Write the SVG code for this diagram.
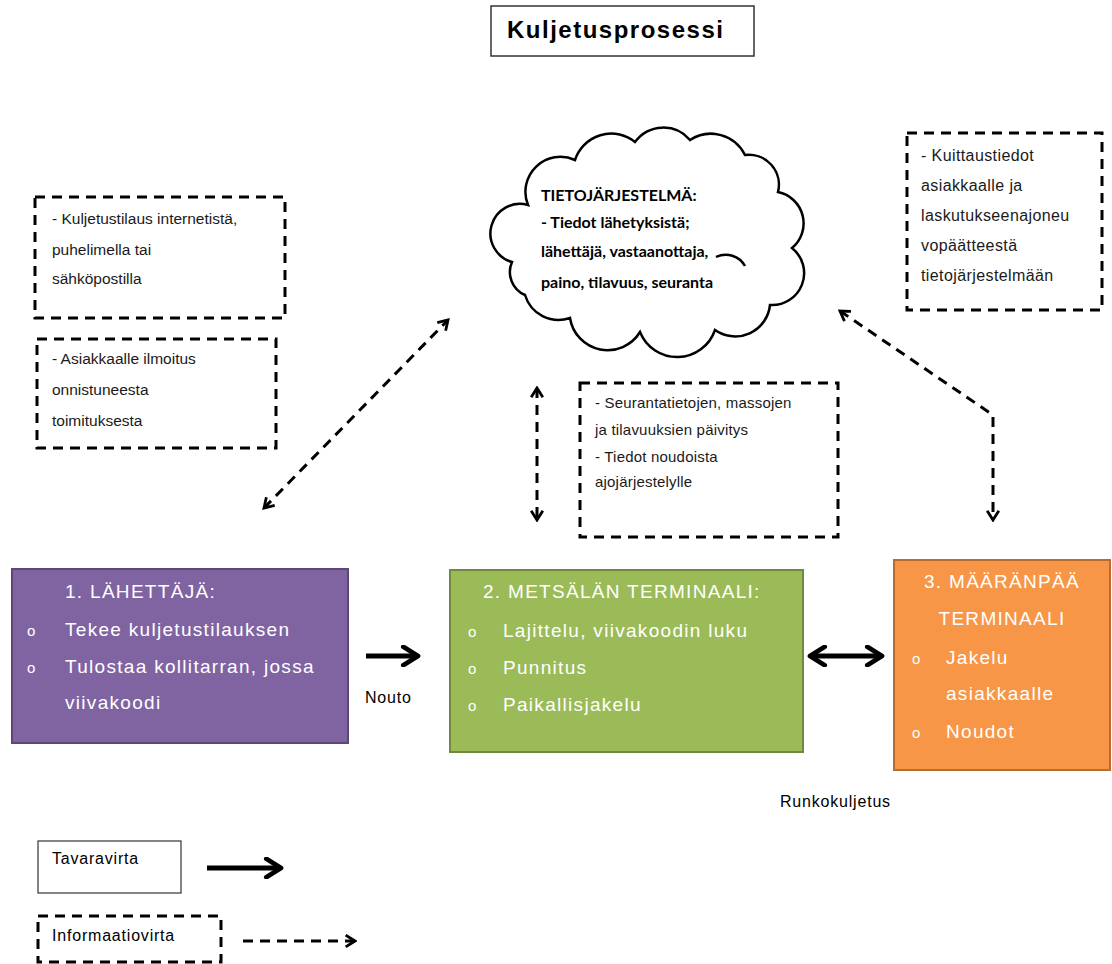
<svg xmlns="http://www.w3.org/2000/svg" width="1112" height="964" viewBox="0 0 1112 964">
<style>
text{font-family:"Liberation Sans",Arial,sans-serif;fill:#000}
.note{font-size:15.5px;fill:#1a1a1a}
.note2{font-size:16px;fill:#1a1a1a;letter-spacing:0.4px}
.small{font-size:15px;fill:#1a1a1a;letter-spacing:0.2px}
.dbox{fill:none;stroke:#000;stroke-width:3;stroke-dasharray:10 7}
.node{font-size:19px;fill:#fff;letter-spacing:1.3px}
.bul{font-size:15px;fill:#fff}
.cloud{font-family:Lato,"Open Sans",sans-serif;font-weight:bold;font-size:16px}
.info{fill:none;stroke:#000;stroke-width:3;stroke-dasharray:10 7}
.goods{fill:none;stroke:#000;stroke-width:5}
.lab{font-size:16px;letter-spacing:0.8px}
</style>
<defs>
<marker id="oa" viewBox="0 0 12 12" refX="10" refY="6" markerWidth="14" markerHeight="14" markerUnits="userSpaceOnUse" orient="auto-start-reverse">
<path d="M2,1 L10,6 L2,11" fill="none" stroke="#000" stroke-width="2.4"/>
</marker>
<marker id="sa" viewBox="0 0 12 12" refX="10" refY="6" markerWidth="22" markerHeight="22" markerUnits="userSpaceOnUse" orient="auto-start-reverse">
<path d="M2,1 L10,6 L2,11" fill="none" stroke="#000" stroke-width="2.6" stroke-linecap="round" stroke-linejoin="round"/>
</marker>
</defs>
<rect width="1112" height="964" fill="#fff"/>

<g id="title">
<rect x="491" y="6" width="263" height="50" fill="#fff" stroke="#333" stroke-width="1.5"/>
<text x="507" y="38" font-size="24" font-weight="bold" letter-spacing="1.5">Kuljetusprosessi</text>
</g>

<g id="tietojarjestelma">
<path d="M512 262 A28 28 0 0 1 528 205 A35 35 0 0 1 575 160 A38 38 0 0 1 635 142 A35 35 0 0 1 690 140 A38 38 0 0 1 745 155 A30 30 0 0 1 778 192 A32 32 0 0 1 792 248 A32 32 0 0 1 770 305 A35 35 0 0 1 715 330 A40 40 0 0 1 640 332 A38 38 0 0 1 570 318 A35 35 0 0 1 525 295 A25 25 0 0 1 512 262 Z" fill="#fff" stroke="#000" stroke-width="2.5"/>
<path d="M716 257 A22 22 0 0 1 745 266" fill="none" stroke="#000" stroke-width="2.5"/>
<text class="cloud" x="541" y="201">TIETOJÄRJESTELMÄ:</text>
<text class="cloud" x="541" y="228">- Tiedot lähetyksistä;</text>
<text class="cloud" x="541" y="257">lähettäjä, vastaanottaja,</text>
<text class="cloud" x="541" y="288">paino, tilavuus, seuranta</text>
</g>

<g id="note-tilaus">
<rect class="dbox" x="35" y="197" width="250" height="121"/>
<text class="note" x="52" y="224">- Kuljetustilaus internetistä,</text>
<text class="note" x="52" y="255">puhelimella tai</text>
<text class="note" x="52" y="284">sähköpostilla</text>
</g>

<g id="note-ilmoitus">
<rect class="dbox" x="37" y="339" width="239" height="109"/>
<text class="note" x="52" y="364">-  Asiakkaalle ilmoitus</text>
<text class="note" x="52" y="395">onnistuneesta</text>
<text class="note" x="52" y="426">toimituksesta</text>
</g>

<g id="note-kuittaus">
<rect class="dbox" x="907" y="133" width="195" height="177"/>
<text class="note2" x="921" y="161">- Kuittaustiedot</text>
<text class="note2" x="921" y="191">asiakkaalle ja</text>
<text class="note2" x="921" y="221">laskutukseenajoneu</text>
<text class="note2" x="921" y="251">vopäätteestä</text>
<text class="note2" x="921" y="281">tietojärjestelmään</text>
</g>

<g id="note-seuranta">
<rect class="dbox" x="580" y="383" width="258" height="154"/>
<text class="small" x="595" y="408">- Seurantatietojen, massojen</text>
<text class="small" x="595" y="435">ja tilavuuksien päivitys</text>
<text class="small" x="595" y="462">- Tiedot noudoista</text>
<text class="small" x="595" y="487">ajojärjestelylle</text>
</g>

<g id="lahettaja">
<rect x="12" y="569" width="336" height="174" fill="#8064A2" stroke="#5C4776" stroke-width="2"/>
<text class="node" x="65" y="598">1.   LÄHETTÄJÄ:</text>
<text class="bul" x="27" y="636">o</text>
<text class="node" x="65" y="636">Tekee kuljetustilauksen</text>
<text class="bul" x="27" y="673">o</text>
<text class="node" x="65" y="673">Tulostaa kollitarran, jossa</text>
<text class="node" x="65" y="709">viivakoodi</text>
</g>

<g id="metsala">
<rect x="450" y="570" width="353" height="182" fill="#9BBB59" stroke="#71893F" stroke-width="2"/>
<text class="node" x="483" y="598">2. METSÄLÄN TERMINAALI:</text>
<text class="bul" x="468" y="637">o</text>
<text class="node" x="503" y="637">Lajittelu, viivakoodin luku</text>
<text class="bul" x="468" y="674">o</text>
<text class="node" x="503" y="674">Punnitus</text>
<text class="bul" x="468" y="711">o</text>
<text class="node" x="503" y="711">Paikallisjakelu</text>
</g>

<g id="maaranpaa">
<rect x="894" y="560" width="216" height="210" fill="#F79646" stroke="#B66D31" stroke-width="2"/>
<text class="node" x="1002" y="588" text-anchor="middle">3. MÄÄRÄNPÄÄ</text>
<text class="node" x="1002" y="625" text-anchor="middle">TERMINAALI</text>
<text class="bul" x="912" y="664">o</text>
<text class="node" x="946" y="664">Jakelu</text>
<text class="node" x="946" y="700">asiakkaalle</text>
<text class="bul" x="912" y="738">o</text>
<text class="node" x="946" y="738">Noudot</text>
</g>

<g id="connectors">
<path class="info" d="M264 508 L448 320" marker-start="url(#oa)" marker-end="url(#oa)"/>
<path class="info" d="M537 388 L537 520" marker-start="url(#oa)" marker-end="url(#oa)"/>
<path class="info" d="M840 311 L993 415 L993 520" marker-start="url(#oa)" marker-end="url(#oa)"/>
<path class="goods" d="M366 656 L418 656" marker-end="url(#sa)"/>
<path class="goods" d="M810 656 L882 656" marker-start="url(#sa)" marker-end="url(#sa)"/>
<text class="lab" x="365" y="703">Nouto</text>
<text class="lab" x="780" y="807">Runkokuljetus</text>
</g>

<g id="legend-tavaravirta">
<rect x="38" y="841" width="143" height="52" fill="#fff" stroke="#333" stroke-width="1.2"/>
<text class="lab" x="52" y="864">Tavaravirta</text>
<path class="goods" d="M207 868 L281 868" marker-end="url(#sa)"/>
</g>

<g id="legend-informaatiovirta">
<rect class="dbox" x="38" y="916" width="183" height="46"/>
<text class="lab" x="52" y="941">Informaatiovirta</text>
<path class="info" d="M243 941 L355 941" marker-end="url(#oa)"/>
</g>
</svg>
